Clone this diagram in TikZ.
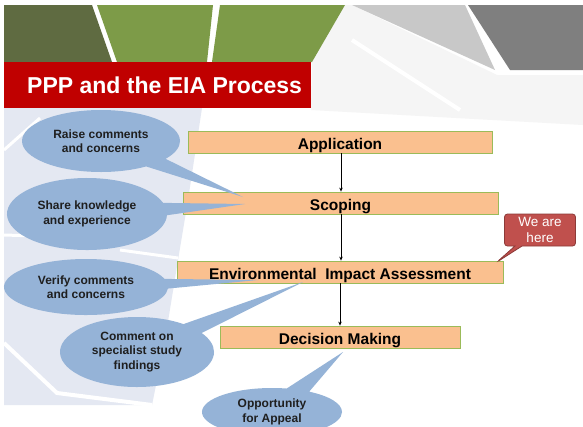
\documentclass[tikz,border=0pt]{standalone}
\usepackage{fontspec}
\setmainfont{Liberation Sans}
\usetikzlibrary{shapes.callouts,shapes.geometric,calc,arrows.meta,shadows}
\definecolor{olivedark}{HTML}{5F6B41}
\definecolor{leafgreen}{HTML}{7D9B48}
\definecolor{lightgrey}{HTML}{C8C8C8}
\definecolor{darkgrey}{HTML}{7F7F7F}
\definecolor{paleback}{HTML}{E4E8F2}
\definecolor{titlered}{HTML}{C00000}
\definecolor{boxfill}{HTML}{FAC08F}
\definecolor{boxline}{HTML}{9BBB59}
\definecolor{bubble}{HTML}{95B3D7}
\definecolor{calloutred}{HTML}{C0504D}
\definecolor{calloutline}{HTML}{8C3A38}
\definecolor{bubbletext}{HTML}{1F1F1F}
\tikzset{
  stepbox/.style={draw=boxline, line width=0.8pt, fill=boxfill, inner sep=0pt,
    minimum height=22pt, text height=15.5pt, text depth=0pt,
    font=\fontsize{15.5}{17}\selectfont\bfseries,
    drop shadow={shadow xshift=1.2pt, shadow yshift=-1.2pt, opacity=0.35}},
  bubblenote/.style={ellipse callout, fill=bubble, draw=none, inner sep=0pt,
    callout pointer arc=20, align=center, text=bubbletext,
    font=\fontsize{12}{14.5}\selectfont\bfseries},
  flowarrow/.style={-{Stealth[length=4pt,width=3.5pt]}, line width=0.8pt, black}
}
\begin{document}
\begin{tikzpicture}[x=1pt,y=-1pt]
\useasboundingbox (0,0) rectangle (583,426);
\fill[white] (0,0) rectangle (583,426);
% faint backgrounds
\fill[black!4] (312,62) -- (345,5) -- (352,5) -- (497,75) -- (583,75) -- (583,125) -- (311,110) -- cycle;
\draw[white, line width=4pt] (352,40) -- (460,110);
\fill[paleback] (4,108) -- (202,108) -- (188,200) -- (178,260) -- (165,340) -- (152,405) -- (4,405) -- cycle;
\draw[white, line width=4pt] (4,343) -- (57,393) -- (152,405);
\draw[white, line width=3pt] (4,235) -- (100,238);
\draw[white, line width=3pt] (120,250) -- (178,258);
\draw[white, line width=3pt] (4,150) -- (40,118);
% top banner shapes
\fill[olivedark] (4,5) -- (92,5) -- (112,62) -- (4,62) -- cycle;
\fill[leafgreen] (97,5) -- (213,5) -- (207,62) -- (117,62) -- cycle;
\fill[leafgreen] (220,5) -- (345,5) -- (312,62) -- (212,62) -- cycle;
\fill[lightgrey] (352,5) -- (465,5) -- (495,70) -- cycle;
\fill[darkgrey] (468,5) -- (583,5) -- (583,70) -- (510,70) -- cycle;
% title bar
\fill[titlered] (4,62) rectangle (311,108);
\node[anchor=west, text=white, font=\fontsize{23}{24}\selectfont\bfseries, inner sep=0pt] (title) at (27,85) {PPP and the EIA Process};
% process boxes
\node[stepbox, minimum width=304pt] (app) at (340,142) {Application};
\node[stepbox, minimum width=315pt] (scop) at (340.5,203) {Scoping};
\node[stepbox, minimum width=326pt] (eia) at (340,272) {Environmental\ \ Impact Assessment};
\node[stepbox, minimum width=240pt] (dec) at (340,337) {Decision Making};
\draw[flowarrow] (app.south -| 341,0) -- (scop.north -| 341,0);
\draw[flowarrow] (scop.south -| 341,0) -- (eia.north -| 341,0);
\draw[flowarrow] (eia.south -| 340,0) -- (dec.north -| 340,0);
% pointer targets
\coordinate (t1) at (243,197);
\coordinate (t2) at (245,204);
\coordinate (t3) at (258,280);
\coordinate (t4) at (303,282);
\coordinate (t5) at (343,352);
\coordinate (t6) at (497,262);
% bubbles
\node[bubblenote, minimum width=158pt, minimum height=62pt, callout absolute pointer={(t1)}] (b1) at (101,141) {Raise comments\\and concerns};
\node[bubblenote, minimum width=160pt, minimum height=72pt, callout absolute pointer={(t2)}] (b2) at (87,214) {Share knowledge\\and experience};
\node[bubblenote, minimum width=164pt, minimum height=56pt, callout absolute pointer={(t3)}] (b3) at (86,287) {Verify comments\\and concerns};
\node[bubblenote, minimum width=154pt, minimum height=70pt, callout absolute pointer={(t4)}] (b4) at (137,352) {Comment on\\specialist study\\findings};
\node[bubblenote, minimum width=140pt, minimum height=48pt, callout absolute pointer={(t5)}] (b5) at (272,412) {Opportunity\\for Appeal};
% we are here
\node[rectangle callout, fill=calloutred, draw=calloutline, line width=0.8pt, rounded corners=3pt,
  minimum width=71pt, minimum height=32pt, inner sep=0pt, align=center, text=white,
  font=\fontsize{13.5}{16}\selectfont, callout absolute pointer={(t6)}] (here) at (540,230) {We are\\here};
\end{tikzpicture}
\end{document}
